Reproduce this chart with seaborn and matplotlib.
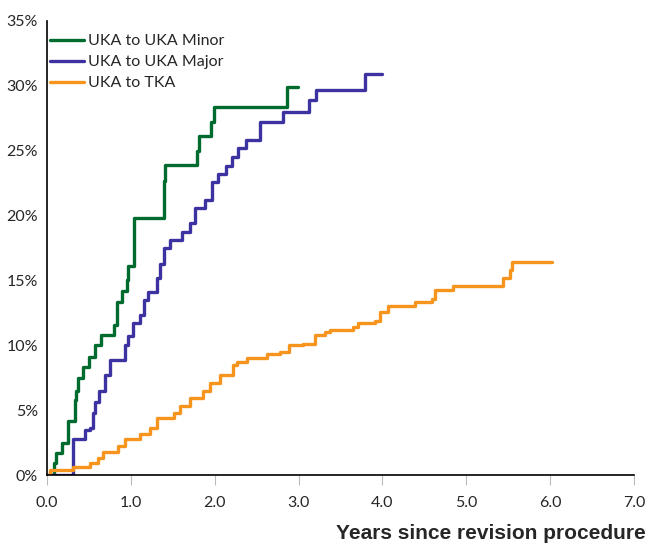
import numpy as np
import pandas as pd
import matplotlib.pyplot as plt
import seaborn as sns

# cumulative percent re-revision
minor_yrs = [0.0, 0.08, 0.11, 0.18, 0.25, 0.33, 0.35, 0.37, 0.43, 0.50, 0.57, 0.64,
             0.80, 0.84, 0.89, 0.95, 0.97, 1.04, 1.39, 1.41, 1.79, 1.81, 1.96, 1.99,
             2.86, 2.99]
minor_pct = [0.0, 0.9, 1.7, 2.5, 4.2, 5.8, 6.5, 7.5, 8.3, 9.1, 10.0, 10.8,
             11.6, 13.3, 14.2, 15.0, 16.1, 19.8, 22.7, 23.9, 25.0, 26.1, 27.2, 28.4,
             29.9, 29.9]

major_yrs = [0.0, 0.31, 0.45, 0.51, 0.55, 0.57, 0.62, 0.69, 0.75, 0.93, 0.97, 1.03,
             1.11, 1.16, 1.21, 1.31, 1.35, 1.39, 1.47, 1.61, 1.70, 1.76, 1.88, 1.97,
             2.04, 2.14, 2.20, 2.28, 2.37, 2.54, 2.81, 3.13, 3.21, 3.79, 4.00]
major_pct = [0.0, 2.8, 3.5, 3.6, 4.8, 5.6, 6.5, 7.7, 8.9, 10.0, 10.7, 11.7,
             12.3, 13.5, 14.1, 15.2, 16.3, 17.5, 18.1, 18.7, 19.4, 20.6, 21.2, 22.6,
             23.2, 23.8, 24.5, 25.2, 25.8, 27.2, 28.0, 28.9, 29.7, 30.9, 30.9]

tka_yrs = [0.0, 0.04, 0.31, 0.51, 0.61, 0.67, 0.85, 0.93, 1.11, 1.23, 1.31, 1.51,
           1.59, 1.70, 1.86, 1.94, 2.06, 2.22, 2.26, 2.38, 2.62, 2.78, 2.88, 3.05,
           3.19, 3.31, 3.37, 3.65, 3.71, 3.91, 3.97, 4.07, 4.39, 4.59, 4.63, 4.84,
           5.44, 5.52, 5.55, 6.02]
tka_pct = [0.0, 0.4, 0.64, 0.9, 1.3, 1.8, 2.2, 2.8, 3.2, 3.6, 4.4, 4.8,
           5.3, 5.9, 6.5, 7.1, 7.7, 8.5, 8.7, 9.0, 9.3, 9.5, 10.0, 10.1,
           10.8, 11.0, 11.2, 11.4, 11.7, 11.9, 12.6, 13.0, 13.3, 13.6, 14.3, 14.6,
           15.2, 15.8, 16.4, 16.4]

series = ['UKA to UKA Minor', 'UKA to UKA Major', 'UKA to TKA']
colors = ['#006b2f', '#3d33a0', '#f7941d']

df = pd.concat([
    pd.DataFrame({'years': minor_yrs, 'pct': minor_pct, 'group': series[0]}),
    pd.DataFrame({'years': major_yrs, 'pct': major_pct, 'group': series[1]}),
    pd.DataFrame({'years': tka_yrs, 'pct': tka_pct, 'group': series[2]}),
])

sns.set_style('white')
plt.rcParams['font.family'] = ['Lato', 'DejaVu Sans']

fig = plt.figure(figsize=(6.49, 5.45), dpi=100)
ax = fig.add_axes([0.0724, 0.1284, 0.9046, 0.8331])

sns.lineplot(data=df, x='years', y='pct', hue='group', hue_order=series,
             palette=colors, estimator=None, sort=False, drawstyle='steps-post',
             linewidth=2.4, ax=ax)

ax.set_xlim(0, 7)
ax.set_ylim(0, 35)
ax.set_xticks(np.arange(0, 7.01, 1.0))
ax.set_xticklabels([f'{v:.1f}' for v in np.arange(0, 7.01, 1.0)], fontsize=11.5)
ax.set_yticks(np.arange(0, 36, 5))
ax.set_yticklabels([f'{v}%' for v in range(0, 36, 5)], fontsize=11.5)
ax.tick_params(axis='x', bottom=True, length=7, width=0.8, color='#bbbbbb', pad=8)
ax.tick_params(axis='y', left=False, pad=3)

for s in ['top', 'right']:
    ax.spines[s].set_visible(False)
ax.spines['left'].set_color('black')
ax.spines['bottom'].set_color('black')
ax.spines['left'].set_linewidth(1.2)
ax.spines['bottom'].set_linewidth(1.2)

ax.set_xlabel('')
ax.set_ylabel('')
fig.text(0.995, 0.004, 'Years since revision procedure', ha='right', va='bottom',
         fontsize=15, fontweight='bold', family=['Liberation Sans', 'DejaVu Sans'])

leg = ax.legend(loc='upper left', bbox_to_anchor=(-0.005, 0.985), frameon=False,
                fontsize=11.5, handlelength=2.1, handletextpad=0.25,
                labelspacing=0.42, borderaxespad=0.0)
for ln in leg.get_lines():
    ln.set_linewidth(2.4)

plt.savefig('out.png', dpi=100)
